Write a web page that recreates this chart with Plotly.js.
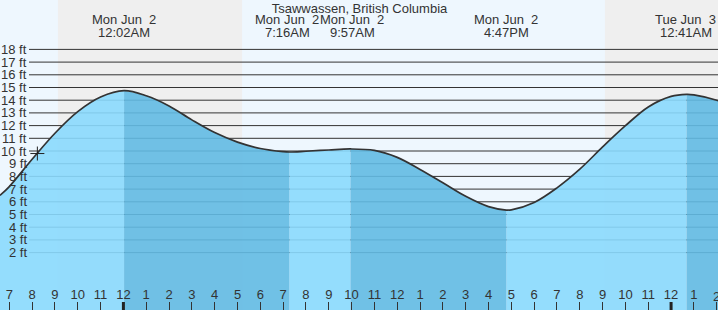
<!DOCTYPE html>
<html>
<head>
<meta charset="utf-8">
<script src="https://cdn.plot.ly/plotly-3.0.1.min.js"></script>
<style>html,body{margin:0;padding:0;background:#fff}#chart{width:718px;height:310px}</style>
</head>
<body>
<div id="chart"></div>
<script>
// Hours relative to 00:00 Mon Jun 2 (negative = Sun Jun 1 evening)
const times   = [-5.41, -5, -4, -3, -2, -1, 0.03, 1, 2, 3, 4, 5, 6, 7, 7.27, 8, 9, 9.95, 11, 12, 13, 14, 15, 16, 16.78, 17, 18, 19, 20, 21, 22, 23, 24, 24.68, 25, 26, 26.06];
const heights = [6.5, 7.2, 9.35, 11.4, 13.1, 14.25, 14.75, 14.35, 13.55, 12.45, 11.45, 10.7, 10.2, 9.95, 9.92, 9.98, 10.08, 10.16, 10.05, 9.5, 8.55, 7.5, 6.43, 5.62, 5.35, 5.37, 5.95, 7.1, 8.57, 10.32, 11.99, 13.47, 14.3, 14.46, 14.42, 14.0, 13.96];

// tide events (hours) and labels
const eventTimes  = [0.03, 7.27, 9.95, 16.78, 24.68];
const eventDays   = ['Mon Jun\u00a0 2', 'Mon Jun\u00a0 2', 'Mon Jun\u00a0 2', 'Mon Jun\u00a0 2', 'Tue Jun\u00a0 3'];
const eventClock  = ['12:02AM', '7:16AM', '9:57AM', '4:47PM', '12:41AM'];
const eventShift  = [0, -2, 2, 0, -1];

// falling-tide (dark) and rising-tide (light) segments
const darkSegments  = [[0.03, 7.27], [9.95, 16.78], [24.68, 26.06]];
const lightSegments = [[-5.41, 0.03], [7.27, 9.95], [16.78, 24.68]];

// night periods [sunset, sunrise]
const nights = [[-2.87, 5.2], [21.1, 27]];

// current time marker
const nowTime = [-3.77];
const nowHeight = [9.8];

// axis ticks
const hourLabels = ['7','8','9','10','11','12','1','2','3','4','5','6','7','8','9','10','11','12','1','2','3','4','5','6','7','8','9','10','11','12','1','2'];
const firstHour = -5;
const midnights = [0, 24];
const ftLevels = [2,3,4,5,6,7,8,9,10,11,12,13,14,15,16,17,18];

const xRange = [-5.4075, 26.056];
const yRange = [-2.52, 21.89];
const BASE = -6;
const TXT = '#333333';
const FONT = 'Liberation Sans, Arial, Helvetica, sans-serif';

const traces = [];
function addSeg(seg, color) {
  const xs = [], ys = [];
  times.forEach((t, i) => { if (t >= seg[0] - 1e-9 && t <= seg[1] + 1e-9) { xs.push(t); ys.push(heights[i]); } });
  traces.push({x: xs, y: xs.map(() => BASE), mode: 'lines', line: {width: 0}, hoverinfo: 'skip', showlegend: false});
  traces.push({x: xs, y: ys, mode: 'lines', line: {width: 0, shape: 'spline', smoothing: 1}, fill: 'tonexty', fillcolor: color, hoverinfo: 'skip', showlegend: false});
}
lightSegments.forEach(s => addSeg(s, 'rgba(138,217,253,0.9)'));
darkSegments.forEach(s => addSeg(s, 'rgba(98,186,227,0.9)'));

traces.push({x: times, y: heights, mode: 'lines', line: {color: '#333333', width: 1.7, shape: 'spline', smoothing: 1}, showlegend: false, hoverinfo: 'skip'});
traces.push({x: nowTime, y: nowHeight, mode: 'markers', marker: {symbol: 'cross-thin', size: 10, line: {color: '#222', width: 1}}, showlegend: false});

const shapes = [];
nights.forEach(n => shapes.push({type: 'rect', xref: 'x', yref: 'paper', x0: n[0], x1: n[1], y0: 0, y1: 1, fillcolor: '#efefef', line: {width: 0}, layer: 'below'}));
ftLevels.forEach(v => shapes.push({type: 'line', xref: 'paper', yref: 'y', x0: 29/718, x1: 1, y0: v, y1: v, line: {color: '#333333', width: 1}, layer: 'below'}));
midnights.forEach(m => shapes.push({type: 'line', xref: 'x', yref: 'paper', x0: m, x1: m, y0: 0, y1: 8/310, line: {color: '#222', width: 3}, layer: 'above'}));

const annotations = [];
ftLevels.forEach(v => annotations.push({text: v + ' ft', xref: 'paper', yref: 'y', x: 28/718, y: v, xanchor: 'right', yanchor: 'middle', showarrow: false, font: {family: FONT, size: 13, color: TXT}, borderpad: 0}));
eventTimes.forEach((t, i) => {
  annotations.push({text: eventDays[i], xref: 'x', yref: 'paper', x: t, y: 1 - 20/310, xanchor: 'center', yanchor: 'middle', xshift: eventShift[i], showarrow: false, font: {family: FONT, size: 13, color: TXT}, borderpad: 0});
  annotations.push({text: eventClock[i], xref: 'x', yref: 'paper', x: t, y: 1 - 32/310, xanchor: 'center', yanchor: 'middle', xshift: eventShift[i], showarrow: false, font: {family: FONT, size: 13, color: TXT}, borderpad: 0});
});
// the last hour label sits at the very edge (partly cut off in the reference); Plotly hides it as a tick label
const lastIdx = hourLabels.length - 1;
annotations.push({text: hourLabels[lastIdx], xref: 'x', yref: 'paper', x: firstHour + lastIdx, y: 14/310, xanchor: 'center', yanchor: 'middle', showarrow: false, font: {family: FONT, size: 13, color: TXT}, borderpad: 0});

const layout = {
  width: 718, height: 310,
  margin: {l: 0, r: 0, t: 0, b: 0, pad: 0},
  paper_bgcolor: '#ffffff',
  plot_bgcolor: '#eef7fe',
  title: {text: 'Tsawwassen, British Columbia', x: 359.5/718, xanchor: 'center', y: 1 - 8/310, yanchor: 'middle', yref: 'container', font: {family: FONT, size: 13, color: TXT}},
  xaxis: {range: xRange, showgrid: false, zeroline: false, showline: false,
          tickmode: 'array', tickvals: hourLabels.map((_, i) => firstHour + i), ticktext: hourLabels,
          ticks: 'inside', ticklen: 8, tickwidth: 1, tickcolor: '#333333',
          ticklabelposition: 'inside', tickfont: {family: FONT, size: 13, color: TXT}, fixedrange: true},
  yaxis: {range: yRange, visible: false, showgrid: false, zeroline: false, fixedrange: true},
  shapes: shapes,
  annotations: annotations,
  showlegend: false
};

Plotly.newPlot('chart', traces, layout, {staticPlot: true, displayModeBar: false});
</script>
</body>
</html>
